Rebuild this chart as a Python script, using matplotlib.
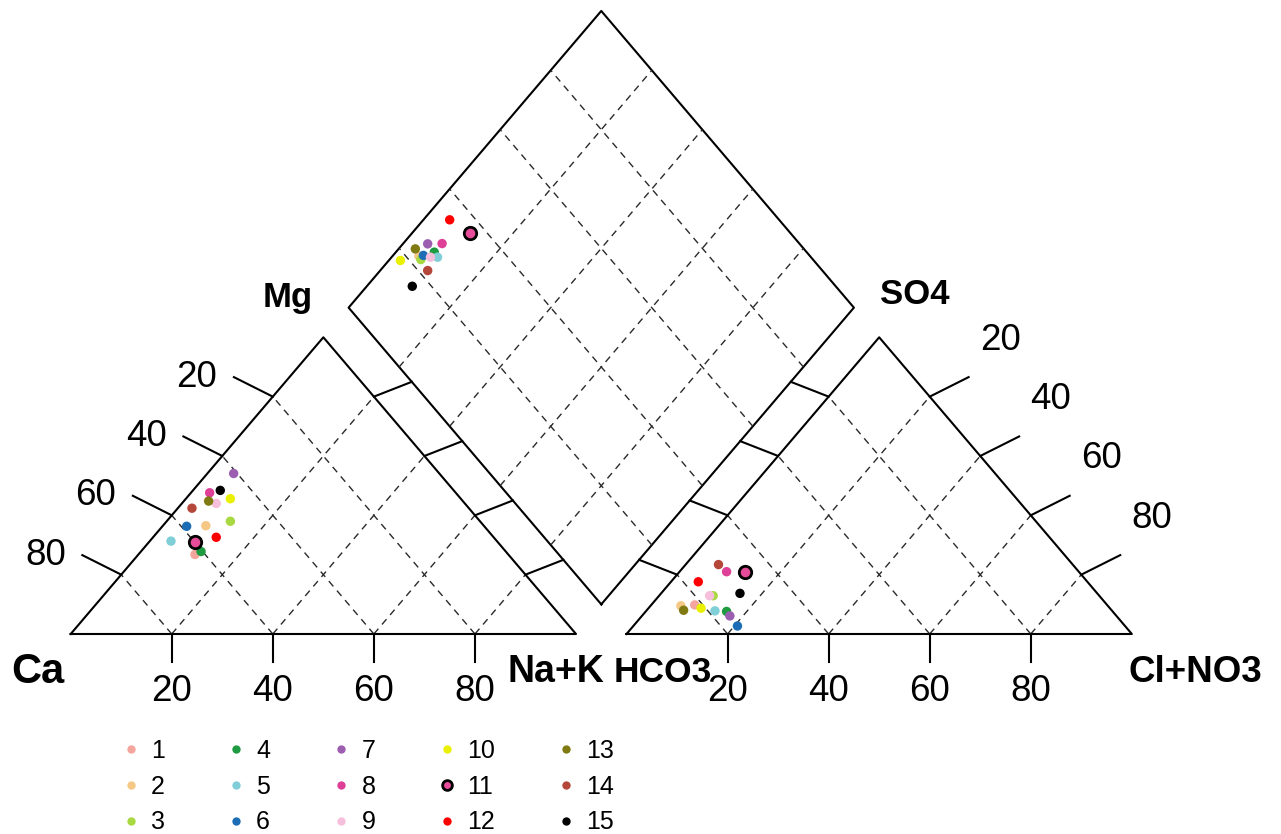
import numpy as np
import matplotlib.pyplot as plt

plt.rcParams['font.family'] = ['Liberation Sans', 'DejaVu Sans']

# sample ids and colours
samples = [str(i) for i in range(1, 16)]
colors = ['#F4A59D', '#F5C985', '#A8D940', '#1E9A40', '#80CFD8',
          '#1C6DB5', '#9B5EB0', '#DE3F97', '#F6BFDC', '#E9F000',
          '#E74C9B', '#FF0000', '#807A12', '#B5473A', '#000000']

# cations (% meq/L)
ca = [62.0, 55.0, 49.4, 60.3, 64.5, 58.9, 40.7, 48.7, 49.2, 45.6, 60.0, 54.9, 50.3, 54.8, 46.2]
mg = [26.8, 36.5, 38.0, 27.8, 31.3, 36.3, 54.1, 47.6, 44.0, 45.6, 30.9, 32.6, 44.8, 42.4, 48.4]
nak = [11.2, 8.5, 12.6, 11.9, 4.2, 4.8, 5.2, 3.7, 6.8, 8.8, 9.1, 12.5, 4.9, 2.8, 5.4]

# anions (% meq/L)
hco3 = [81.6, 84.5, 76.4, 76.4, 78.6, 76.7, 76.5, 69.7, 77.1, 80.9, 66.1, 77.0, 84.7, 70.1, 70.7]
so4 = [9.8, 9.5, 12.9, 7.6, 7.8, 2.7, 6.1, 21.0, 12.9, 8.7, 20.8, 17.6, 8.0, 23.4, 13.7]
cl = [8.6, 6.0, 10.7, 16.0, 13.6, 20.6, 17.4, 9.3, 10.0, 10.4, 13.1, 5.4, 7.3, 6.5, 15.6]

# diamond (Na+K %, Cl+SO4 %)
dia_nak = [5.8, 5.2, 6.2, 7.6, 9.1, 6.0, 4.9, 7.7, 7.7, 2.3, 11.5, 5.2, 3.3, 9.4, 9.0]
dia_clso4 = [22.8, 22.6, 22.4, 26.3, 26.1, 23.6, 26.4, 29.3, 24.7, 18.2, 36.5, 34.8, 23.1, 21.9, 16.2]

ticks = [20, 40, 60, 80]

H = np.sqrt(3) / 2
OFF = 110


def cat_xy(m, n):
    m, n = np.asarray(m), np.asarray(n)
    return n + 0.5 * m, H * m


def an_xy(s, c):
    s, c = np.asarray(s), np.asarray(c)
    return OFF + c + 0.5 * s, H * s


def dia_xy(n, c):
    n, c = np.asarray(n), np.asarray(c)
    h = 100 - c
    return 105 + 0.5 * (n - h), H * (210 - h - n)


fig = plt.figure(figsize=(12.81, 8.34), dpi=100)
ax = fig.add_axes([0, 0, 1, 1])
ax.set_xlim(-13.99, 239.52)
ax.set_ylim(-58.38, 185.06)
ax.axis('off')

lw = 1.5
dash = dict(color='#2a2a2a', lw=1.0, linestyle=(0, (5, 4)))

# triangles
for o in [0, OFF]:
    ax.plot([o, o + 100, o + 50, o], [0, 0, 100 * H, 0], color='black', lw=lw)
    for k in ticks:
        # lines parallel to the two slanted sides
        ax.plot([o + k, o + k + 0.5 * (100 - k)], [0, H * (100 - k)], **dash)
        ax.plot([o + k, o + 0.5 * k], [0, H * k], **dash)
        # bottom ticks
        ax.plot([o + k, o + k], [0, -8.2], color='black', lw=lw)
        ax.text(o + k, -16.8, str(k), ha='center', va='center', fontsize=26.5)

# diamond
B = np.array([105, 10 * H])
L = np.array([55, 110 * H])
T = np.array([105, 210 * H])
R = np.array([155, 110 * H])
d = np.array([B, L, T, R, B])
ax.plot(d[:, 0], d[:, 1], color='black', lw=lw)
for k in ticks:
    f = k / 100
    p = B + f * (R - B)
    ax.plot([p[0], p[0] + (L - B)[0]], [p[1], p[1] + (L - B)[1]], **dash)
    p = B + f * (L - B)
    ax.plot([p[0], p[0] + (R - B)[0]], [p[1], p[1] + (R - B)[1]], **dash)

# connectors between triangles and diamond, and side ticks
for k in ticks:
    f = k / 100
    x0, y0 = 100 - 50 * f, 100 * H * f
    ax.plot([x0, x0 + 7.5], [y0, y0 + 4.33], color='black', lw=lw)
    x0, y0 = OFF + 50 * f, 100 * H * f
    ax.plot([x0, x0 - 7.5], [y0, y0 + 4.33], color='black', lw=lw)

    g = (100 - k) / 100
    # left triangle, left side
    x0, y0 = 50 * g, 100 * H * g
    ax.plot([x0, x0 - 7.7], [y0, y0 + 5.7], color='black', lw=lw)
    ax.text(x0 - 11.0, y0 + 5.7, str(k), ha='right', va='center', fontsize=26.5)
    # right triangle, right side
    x0, y0 = OFF + 100 - 50 * g, 100 * H * g
    ax.plot([x0, x0 + 7.7], [y0, y0 + 5.7], color='black', lw=lw)
    ax.text(x0 + 14.0, y0 + 16.5, str(k), ha='center', va='center', fontsize=26.5)

# axis names
bold = dict(fontweight='bold', ha='center', va='center')
ax.text(-6.5, -11.1, 'Ca', fontsize=30, **bold)
ax.text(96.1, -11.1, 'Na+K', fontsize=27, **bold)
ax.text(117.2, -11.1, 'HCO3', fontsize=25.5, **bold)
ax.text(222.5, -11.1, 'Cl+NO3', fontsize=26.5, **bold)
ax.text(43.0, 98.1, 'Mg', fontsize=25, **bold)
ax.text(167.1, 99.0, 'SO4', fontsize=25, **bold)

# points
cx, cy = cat_xy(mg, nak)
ax_, ay = an_xy(so4, cl)
dx, dy = dia_xy(dia_nak, dia_clso4)
for i, s in enumerate(samples):
    if s == '11':
        kw = dict(s=80, edgecolors='black', linewidths=2.0)
        lkw = dict(markeredgecolor='black', markeredgewidth=2.0, markersize=7)
    else:
        kw = dict(s=46, edgecolors='none')
        lkw = dict(markeredgecolor='none', markersize=6)
    for xs, ys in [(cx, cy), (ax_, ay), (dx, dy)]:
        ax.scatter(xs[i], ys[i], color=colors[i], zorder=5, **kw)
    ax.plot([], [], 'o', color=colors[i], label=s, **lkw)

ax.legend(loc='upper left', bbox_to_anchor=(0.0925, 0.114), ncol=5, frameon=False,
          fontsize=18, handlelength=1.0, handletextpad=0.3, columnspacing=2.35,
          labelspacing=0.47, borderaxespad=0, borderpad=0)

fig.savefig('out.png', dpi=100)
